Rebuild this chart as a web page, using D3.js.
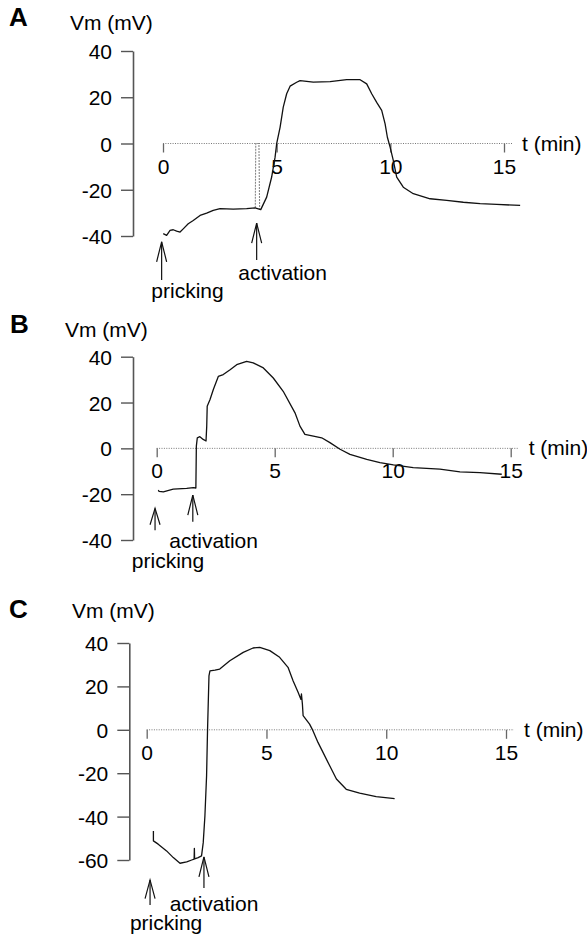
<!DOCTYPE html>
<html>
<head>
<meta charset="utf-8">
<script src="https://cdn.jsdelivr.net/npm/d3@7"></script>
<style>
  body { margin: 0; background: #fff; }
  svg { display: block; }
  text { font-family: "Liberation Sans", Arial, Helvetica, sans-serif; fill: #000; }
</style>
</head>
<body>
<svg id="chart" width="587" height="938"></svg>
<script>
// time (min), membrane potential (mV)
const traceA = [
  [0.01, -39.0], [0.16, -39.7], [0.31, -37.6], [0.45, -37.3], [0.60, -37.9], [0.75, -38.3],
  [0.89, -36.9], [1.11, -34.7], [1.33, -33.3], [1.63, -31.1], [1.92, -30.1], [2.21, -28.9],
  [2.51, -28.2], [3.09, -28.4], [3.68, -28.2], [4.05, -27.8], [4.30, -28.6], [4.56, -23.2],
  [4.78, -14.5], [4.93, -5.9], [5.00, -0.1], [5.15, 7.0], [5.29, 15.7], [5.44, 21.5],
  [5.59, 24.8], [5.88, 26.5], [6.03, 27.2], [6.61, 26.5], [7.35, 26.8], [8.08, 27.6],
  [8.67, 27.6], [8.96, 25.8], [9.18, 21.5], [9.40, 17.8], [9.62, 14.3], [9.77, 8.5],
  [9.87, 2.7], [9.99, -1.6], [10.13, -7.3], [10.28, -14.5], [10.57, -18.9], [11.01, -21.7],
  [11.75, -23.9], [12.48, -24.6], [13.21, -25.4], [13.95, -26.0], [14.68, -26.3], [15.71, -26.8]
];
// stimulation artefact in A (grey loop)
const artefactA = [[4.06, -27.8], [4.08, 0], [4.22, 0], [4.25, -28.2]];

const traceB = [
  [0.07, -18.2], [0.10, -18.8], [0.28, -19.0], [0.70, -17.8], [1.27, -17.5], [1.55, -17.1],
  [1.66, -17.3], [1.67, -8.0], [1.68, 1.0], [1.72, 4.6], [1.83, 5.1], [1.97, 3.9],
  [2.09, 3.2], [2.12, 9.7], [2.14, 18.4], [2.26, 21.3], [2.40, 25.7], [2.61, 31.4],
  [2.82, 32.2], [3.11, 34.3], [3.39, 36.5], [3.81, 38.0], [4.09, 37.3], [4.52, 35.1],
  [4.94, 30.7], [5.36, 24.9], [5.86, 15.5], [6.07, 9.7], [6.28, 6.1], [6.64, 5.3],
  [6.99, 4.6], [7.34, 2.5], [7.77, -0.4], [8.19, -2.6], [8.90, -4.8], [9.46, -6.2],
  [10.03, -7.2], [10.87, -8.4], [12.00, -9.1], [12.85, -10.3], [13.70, -10.6], [14.62, -11.3]
];

const traceC = [
  [0.28, -46.6], [0.28, -51.2], [0.48, -52.7], [0.83, -55.8], [1.11, -58.9], [1.39, -61.5],
  [1.67, -60.9], [1.88, -60.0], [1.98, -59.6], [1.99, -54.6], [2.00, -59.5], [2.15, -58.9],
  [2.29, -58.1], [2.36, -52.0], [2.43, -39.7], [2.50, -21.2], [2.54, 0], [2.60, 24.9],
  [2.64, 27.2], [2.85, 27.5], [3.05, 28.0], [3.47, 31.8], [4.03, 35.7], [4.44, 37.7],
  [4.72, 38.0], [5.14, 36.5], [5.55, 33.4], [5.90, 28.8], [6.11, 22.6], [6.32, 17.3],
  [6.44, 14.0], [6.46, 16.5], [6.50, 11.9], [6.53, 6.5], [6.80, 2.6], [6.94, -0.4],
  [7.15, -5.8], [7.36, -10.4], [7.64, -16.6], [7.92, -22.7], [8.33, -27.4], [8.89, -29.2],
  [9.58, -30.8], [10.35, -31.7]
];

const xTicks = [0, 5, 10, 15];
const yTicksAB = [-40, -20, 0, 20, 40];
const yTicksC = [-60, -40, -20, 0, 20, 40];

// arrows: time, tip and tail in mV, text anchor (time, mV)
const notesA = [
  { label: 'pricking', t: -0.06, vTip: -42.5, vEnd: -59.0, tt: 1.08, tv: -66.8 },
  { label: 'activation', t: 4.12, vTip: -34.4, vEnd: -50.4, tt: 5.26, tv: -59.0 }
];
const notesB = [
  { label: 'pricking', t: -0.07, vTip: -26.2, vEnd: -35.7, tt: 0.48, tv: -52.4 },
  { label: 'activation', t: 1.53, vTip: -20.4, vEnd: -32.0, tt: 2.41, tv: -43.6 }
];
const notesC = [
  { label: 'pricking', t: 0.14, vTip: -69.2, vEnd: -80.7, tt: 0.81, tv: -92.4 },
  { label: 'activation', t: 2.39, vTip: -58.6, vEnd: -72.9, tt: 2.81, tv: -83.6 }
];

const svg = d3.select('#chart');

const panels = [
  { letter: 'A', trace: traceA, artefact: artefactA, notes: notesA, yTicks: yTicksAB,
    yDomain: [-40, 40], xRange: [163, 504], yRange: [236, 51], yAxisX: 133,
    letterPos: [9, 26], vmPos: [70, 30] },
  { letter: 'B', trace: traceB, artefact: null, notes: notesB, yTicks: yTicksAB,
    yDomain: [-40, 40], xRange: [156.7, 510.7], yRange: [540, 356.7], yAxisX: 133,
    letterPos: [10, 333], vmPos: [65, 337] },
  { letter: 'C', trace: traceC, artefact: null, notes: notesC, yTicks: yTicksC,
    yDomain: [-60, 40], xRange: [146.7, 506], yRange: [860, 643], yAxisX: 129.3,
    letterPos: [9, 618], vmPos: [72, 618] }
];

const line = d3.line();

panels.forEach(p => {
  const x = d3.scaleLinear().domain([0, 15]).range(p.xRange);
  const y = d3.scaleLinear().domain(p.yDomain).range(p.yRange);
  const g = svg.append('g');
  const y0 = y(0);

  // panel letter and axis titles
  g.append('text')
    .attr('x', p.letterPos[0]).attr('y', p.letterPos[1])
    .style('font-size', '26px').style('font-weight', 'bold')
    .text(p.letter);
  g.append('text')
    .attr('x', p.vmPos[0]).attr('y', p.vmPos[1])
    .style('font-size', '21px')
    .text('Vm (mV)');

  // y axis (plain hyphen for negatives, as in the figure)
  const yAxis = g.append('g')
    .attr('transform', `translate(${p.yAxisX},0)`)
    .call(d3.axisLeft(y).tickValues(p.yTicks).tickFormat(d => String(d))
      .tickSize(12).tickSizeOuter(0).tickPadding(9));
  yAxis.select('.domain').attr('stroke', '#555').attr('stroke-width', 1.6);
  yAxis.selectAll('.tick line').attr('stroke', '#555').attr('stroke-width', 1.4);
  yAxis.selectAll('.tick text')
    .attr('font-family', null).attr('font-size', null)
    .style('font-size', '21px').attr('dy', '0.36em');

  // x axis on the zero line, dotted
  const xAxis = g.append('g')
    .attr('transform', `translate(0,${y0})`)
    .call(d3.axisBottom(x).tickValues(xTicks).tickSize(9).tickSizeOuter(0));
  xAxis.select('.domain').remove();
  xAxis.append('line')
    .attr('x1', x(0)).attr('x2', x(15) + 8)
    .attr('stroke', '#777').attr('stroke-width', 1)
    .attr('stroke-dasharray', '1,1.4');
  xAxis.selectAll('.tick line').attr('stroke', '#666').attr('stroke-width', 1.3);
  xAxis.selectAll('.tick text')
    .attr('font-family', null).attr('font-size', null)
    .style('font-size', '21px').attr('y', 30).attr('dy', 0);
  g.append('text')
    .attr('x', x(15) + 18).attr('y', y0 + 7)
    .style('font-size', '21px')
    .text('t (min)');

  // artefact (grey dotted loop)
  if (p.artefact) {
    g.append('path')
      .attr('d', line(p.artefact.map(d => [x(d[0]), y(d[1])])))
      .attr('fill', 'none').attr('stroke', '#888').attr('stroke-width', 1.1)
      .attr('stroke-dasharray', '2,1');
  }

  // membrane potential trace
  g.append('path')
    .attr('d', line(p.trace.map(d => [x(d[0]), y(d[1])])))
    .attr('fill', 'none').attr('stroke', '#111').attr('stroke-width', 1.3)
    .attr('stroke-linejoin', 'round');

  // event arrows
  p.notes.forEach(n => {
    const ax = x(n.t), ty = y(n.vTip), ey = y(n.vEnd);
    const head = Math.min(20, (ey - ty) * 0.75);
    g.append('line')
      .attr('x1', ax).attr('x2', ax).attr('y1', ty).attr('y2', ey)
      .attr('stroke', '#111').attr('stroke-width', 1.2);
    g.append('path')
      .attr('d', `M${ax - 5},${ty + head}L${ax},${ty}L${ax + 5},${ty + head}`)
      .attr('fill', 'none').attr('stroke', '#111').attr('stroke-width', 1.2);
    g.append('text')
      .attr('x', x(n.tt)).attr('y', y(n.tv))
      .attr('text-anchor', 'middle')
      .style('font-size', '21px')
      .text(n.label);
  });
});
</script>
</body>
</html>
